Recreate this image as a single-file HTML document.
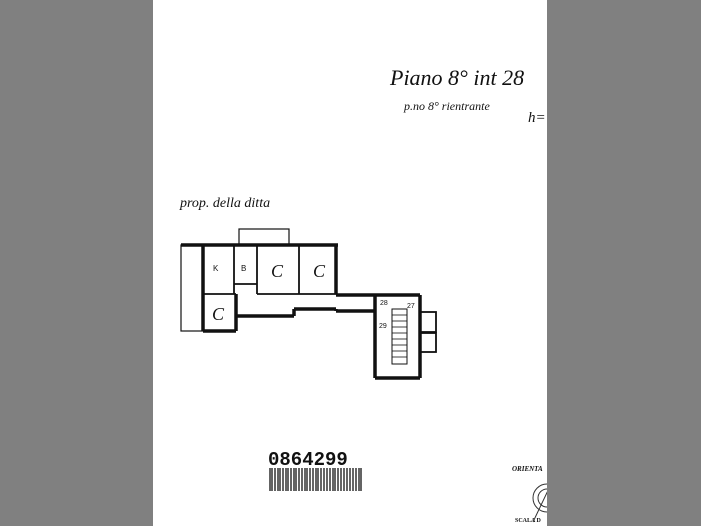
<!DOCTYPE html>
<html><head><style>
html,body{margin:0;padding:0;background:#808080;}
.w{position:absolute;left:153px;top:0;width:394px;height:526px;background:#fff;overflow:hidden;}
svg{position:absolute;left:0;top:0}
.h{font-family:"Liberation Serif",serif;font-style:italic;fill:#111}
</style></head><body>
<div class="w"></div>
<svg width="701" height="526" viewBox="0 0 701 526">
<defs><clipPath id="c"><rect x="153" y="0" width="394" height="526"/></clipPath></defs>
<g stroke="#111" fill="none" clip-path="url(#c)">
<text class="h" x="390" y="85" font-size="22" stroke="none">Piano 8° int 28</text>
<text class="h" x="404" y="110" font-size="12" stroke="none">p.no 8° rientrante</text>
<text class="h" x="528" y="122" font-size="15" stroke="none">h=</text>
<text class="h" x="180" y="207" font-size="14" stroke="none">prop. della ditta</text>
<rect x="181" y="245" width="22" height="86" stroke-width="1.2"/>
<rect x="239" y="229" width="50" height="16" stroke-width="1.2"/>
<g stroke-width="3.5">
<line x1="181" y1="245" x2="338" y2="245"/>
<line x1="203" y1="245" x2="203" y2="331"/>
<line x1="203" y1="331" x2="236" y2="331"/>
<line x1="236" y1="294" x2="236" y2="331"/>
<line x1="236" y1="316" x2="294" y2="316"/>
<line x1="294" y1="316" x2="294" y2="309"/>
<line x1="294" y1="309" x2="336" y2="309"/>
<line x1="336" y1="309" x2="336" y2="311"/>
<line x1="336" y1="311" x2="375" y2="311"/>
<line x1="336" y1="245" x2="336" y2="294"/>
<line x1="336" y1="295" x2="420" y2="295"/>
<line x1="375" y1="295" x2="375" y2="378"/>
<line x1="420" y1="295" x2="420" y2="378"/>
<line x1="375" y1="378" x2="420" y2="378"/>
</g>
<g stroke-width="1.8">
<line x1="203" y1="294" x2="236" y2="294"/>
<line x1="234" y1="245" x2="234" y2="294"/>
<line x1="257" y1="245" x2="257" y2="294"/>
<line x1="234" y1="284" x2="257" y2="284"/>
<line x1="257" y1="294" x2="336" y2="294"/>
<line x1="299" y1="245" x2="299" y2="294"/>
<rect x="420" y="312" width="16" height="20"/>
<rect x="420" y="333" width="16" height="19"/>
</g>
<rect x="392" y="309" width="15" height="55" stroke-width="1"/>
<g stroke-width="0.8">
<line x1="392" y1="315" x2="407" y2="315"/><line x1="392" y1="321" x2="407" y2="321"/>
<line x1="392" y1="327" x2="407" y2="327"/><line x1="392" y1="333" x2="407" y2="333"/>
<line x1="392" y1="339" x2="407" y2="339"/><line x1="392" y1="345" x2="407" y2="345"/>
<line x1="392" y1="351" x2="407" y2="351"/><line x1="392" y1="357" x2="407" y2="357"/>
</g>
</g>
<g font-family="Liberation Sans,sans-serif" fill="#111" clip-path="url(#c)">
<text x="213" y="271" font-size="8">K</text>
<text x="241" y="271" font-size="8">B</text>
<text class="h" x="271" y="277" font-size="18">C</text>
<text class="h" x="313" y="277" font-size="18">C</text>
<text class="h" x="212" y="320" font-size="18">C</text>
<text x="380" y="305" font-size="7">28</text>
<text x="407" y="308" font-size="7">27</text>
<text x="379" y="328" font-size="7">29</text>
<text x="268" y="465" font-size="19" font-weight="bold" font-family="Liberation Mono,monospace">0864299</text>
<text x="512" y="471" font-size="7" font-weight="bold" font-family="Liberation Serif,serif" font-style="italic">ORIENTA</text>
<text x="515" y="522" font-size="6" font-weight="bold" font-family="Liberation Serif,serif">SCALA D</text>
</g>
<g stroke="#111" stroke-width="1.3">
<path d="M270 468v23M272 468v23M275 468v23M278 468v23M280 468v23M283 468v23M286 468v23M288 468v23M291 468v23M294 468v23M296 468v23M299 468v23M302 468v23M305 468v23M307 468v23M310 468v23M313 468v23M316 468v23M318 468v23M321 468v23M324 468v23M327 468v23M330 468v23M333 468v23M335 468v23M338 468v23M341 468v23M344 468v23M347 468v23M350 468v23M353 468v23M356 468v23M359 468v23M361 468v23"/>
</g>
<g stroke="#333" fill="none" stroke-width="1" clip-path="url(#c)">
<circle cx="547" cy="498" r="14"/><circle cx="547" cy="498" r="9"/>
<line x1="533" y1="522" x2="552" y2="482"/>
</g>
</svg>
</body></html>
